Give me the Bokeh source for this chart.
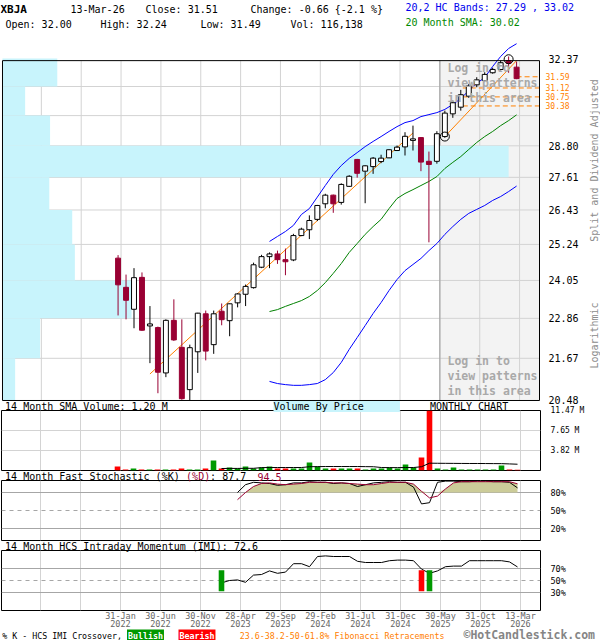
import math
import pandas as pd
from bokeh.plotting import figure
from bokeh.layouts import column
from bokeh.models import Range1d, FixedTicker, PrintfTickFormatter, Label, Span, Grid
from bokeh.embed import file_html
from bokeh.resources import INLINE

FONT = "DejaVu Sans Mono"
RED = "#990033"
ORANGE = "#ff8000"
CYAN = "#c8f4fc"
SHADE = "#f3f3f3"
GRIDC = "#d3d3d3"
LEVELC = "#a6a6a6"

# ---------------- data ----------------
months = [str(p) for p in pd.period_range("2022-01", "2026-03", freq="M")]
idx = list(range(len(months)))

opens = [24.78, 23.83, 23.14, 24.15, 22.63, 22.58, 21.25, 22.80, 21.99, 20.78,
         21.86, 23.00, 22.07, 23.08, 22.79, 23.34, 23.61, 23.82, 24.48, 24.83,
         24.92, 24.73, 24.72, 25.54, 25.74, 26.10, 26.65, 26.96, 26.70, 27.28,
         28.28, 27.84, 28.01, 28.20, 28.34, 28.62, 28.76, 29.01, 29.12, 28.21,
         28.21, 29.16, 30.06, 30.33, 30.78, 31.25, 31.43, 31.76, 31.90, 32.28, 32.00]
highs = [24.88, 24.24, 24.45, 24.31, 23.24, 22.61, 22.83, 23.45, 22.83, 22.07,
         23.03, 23.10, 23.10, 23.32, 23.32, 23.64, 23.92, 24.63, 24.89, 24.97,
         25.03, 25.10, 25.60, 25.81, 26.24, 26.61, 27.01, 26.98, 27.39, 27.69,
         28.30, 28.06, 28.37, 28.46, 28.67, 28.81, 29.33, 29.59, 29.14, 28.58,
         29.37, 30.19, 30.60, 31.04, 31.29, 31.57, 31.78, 31.97, 32.28, 32.46, 32.24]
lows = [22.95, 22.83, 22.56, 22.48, 21.53, 20.68, 21.13, 22.18, 20.50, 20.48,
        21.25, 21.61, 21.80, 22.65, 22.32, 23.20, 23.24, 23.79, 24.45, 24.45,
        24.59, 24.22, 24.68, 25.52, 25.42, 26.04, 26.49, 26.33, 26.62, 27.26,
        27.60, 26.67, 27.74, 28.14, 28.33, 28.60, 28.43, 28.62, 27.84, 25.31,
        28.12, 29.11, 29.90, 30.19, 30.71, 31.15, 31.40, 31.72, 31.86, 31.76, 31.49]
closes = [23.91, 23.42, 24.14, 22.50, 22.69, 21.27, 22.80, 22.21, 20.53, 21.98,
          23.02, 21.88, 23.00, 22.82, 23.31, 23.62, 23.86, 24.56, 24.83, 24.92,
          24.73, 24.66, 25.54, 25.76, 26.06, 26.59, 26.96, 26.65, 27.35, 27.65,
          27.76, 28.04, 28.33, 28.33, 28.65, 28.75, 29.17, 29.07, 28.18, 28.09,
          29.27, 30.09, 30.51, 30.84, 31.21, 31.46, 31.69, 31.90, 32.19, 32.17, 31.51]
volume_m = [0.78, 0.20, 0.38, 0.20, 0.19, 0.21, 0.20, 0.19, 0.40, 0.20,
            0.19, 0.38, 1.92, 0.38, 0.57, 0.38, 0.76, 0.38, 0.57, 0.76,
            0.38, 0.38, 0.38, 0.38, 1.53, 0.76, 0.38, 0.38, 0.38, 0.38,
            0.38, 0.19, 0.38, 0.38, 0.57, 0.38, 1.15, 0.57, 2.49, 11.47,
            0.38, 0.19, 0.57, 0.19, 0.19, 0.19, 0.19, 0.19, 0.96, 0.19, 0.12]

vol_sma_idx = list(range(13, 51))
vol_sma = [0.38, 0.40, 0.40, 0.42, 0.42, 0.55, 0.57, 0.57, 0.57, 0.57,
           0.57, 0.72, 0.74, 0.76, 0.76, 0.76, 0.76, 0.76, 0.74, 0.72,
           0.57, 0.55, 0.55, 0.57, 0.57, 0.72, 1.40, 1.38, 1.37, 1.36,
           1.35, 1.34, 1.34, 1.33, 1.32, 1.31, 1.26, 1.20]

band_idx = list(range(19, 51))
band_upper = [25.34, 25.51, 25.68, 25.89, 26.27, 26.48, 26.89, 27.31, 27.72, 28.05,
              28.32, 28.54, 28.77, 28.97, 29.16, 29.36, 29.55, 29.71, 29.79, 29.95,
              30.03, 30.11, 30.24, 30.44, 30.68, 31.01, 31.31, 31.56, 32.03, 32.46,
              32.81, 33.02]
sma20 = [23.07, 23.13, 23.23, 23.32, 23.41, 23.54, 23.73, 23.98, 24.28, 24.60,
         24.97, 25.27, 25.58, 25.85, 26.10, 26.48, 26.84, 27.02, 27.16, 27.31,
         27.46, 27.64, 27.94, 28.17, 28.39, 28.66, 28.93, 29.16, 29.36, 29.59,
         29.79, 30.02]
band_lower = [21.01, 20.95, 20.92, 20.90, 20.90, 20.92, 20.95, 21.06, 21.26, 21.55,
              21.93, 22.28, 22.64, 23.01, 23.35, 23.73, 24.08, 24.37, 24.57, 24.77,
              25.03, 25.27, 25.58, 25.85, 26.10, 26.31, 26.45, 26.59, 26.77, 26.91,
              27.09, 27.29]

fib_levels = [31.59, 31.12, 30.75, 30.38]
fib_from = [50.0, 43.25, 43.25, 43.25]
pivot_idx = [41, 49]
pivot_price = [29.16, 32.34]
trend1_idx = [4, 37]
trend1_price = [21.22, 29.30]
trend2_idx = [41, 50]
trend2_price = [29.16, 32.28]

vbp_edges = [20.48, 21.67, 22.86, 24.05, 25.24, 26.43, 27.61, 28.80, 29.99, 31.18, 32.37]
vbp_volume = [1.0, 2.97, 10.2, 5.72, 5.51, 3.70, 40.0, 3.76, 1.79, 4.33]
price_ticks = [20.48, 21.67, 22.86, 24.05, 25.24, 26.43, 27.61, 28.80, 32.37]

date_tick_pos = [-9.625, -4.625, 0.375, 5.375, 10.375, 15.375, 20.375,
                 25.375, 30.375, 35.375, 40.375, 45.375, 50.375]
date_tick_labels = ["", "", "31-Jan\n2022", "30-Jun\n2022", "30-Nov\n2022", "28-Apr\n2023",
                    "29-Sep\n2023", "29-Feb\n2024", "31-Jul\n2024", "31-Dec\n2024",
                    "30-May\n2025", "31-Oct\n2025", "13-Mar\n2026"]

stoch_idx = list(range(15, 51))
stoch_k = [80, 93, 97, 96, 95, 92, 93, 96, 96, 98, 97, 97, 95, 96, 95, 90, 93, 96,
           97, 98, 97, 97, 89, 61, 63, 97, 99, 99, 98, 98, 99, 99, 98, 98, 97, 87.7]
stoch_d = [68, 80, 90, 95, 96, 94, 93, 94, 95, 97, 97, 97, 96, 96, 95, 94, 93, 93,
           95, 97, 97, 97, 94, 82, 71, 74, 86, 96, 98, 98, 98, 98, 98, 98, 98, 94.5]
stoch_levels = [20, 50, 80]

imi_idx = list(range(13, 51))
imi = [46, 50, 51, 47, 59, 60, 66, 62, 64, 78, 78, 73, 90, 91, 90, 90, 90, 82, 80,
       80, 80, 83, 84, 84, 83, 69, 62, 66, 73, 74, 74, 83, 83, 83, 83, 83, 81, 72.6]
imi_levels = [30, 50, 70]
cross_idx = [13, 38, 39]
cross_kind = ["Bullish", "Bearish", "Bullish"]
cross_low = [32, 32, 32]
cross_high = [67, 67, 67]
vol_ticks = [3.82, 7.65, 11.47]

# ---------------- helpers ----------------
def lab(p, x, y, text, size="10px", color="black", bold=False, align="left", **kw):
    kw.setdefault("x_units", "screen")
    kw.setdefault("y_units", "screen")
    l = Label(x=x, y=y, text=text, text_font=FONT, text_font_size=size, text_color=color,
              text_font_style="bold" if bold else "normal", text_baseline="middle",
              text_align=align, **kw)
    p.add_layout(l)
    return l

def style_right_axis(ax, ticks, fmt, size, standoff):
    ax.ticker = FixedTicker(ticks=ticks)
    ax.formatter = PrintfTickFormatter(format=fmt)
    ax.major_label_text_font = FONT
    ax.major_label_text_font_size = size
    ax.major_label_text_color = "black"
    ax.axis_line_color = None
    ax.major_tick_line_color = None
    ax.minor_tick_line_color = None
    ax.major_tick_out = 0
    ax.major_tick_in = 0
    ax.minor_tick_out = 0
    ax.major_label_standoff = standoff

def panel(height, top, bottom, ymax, xaxis=None):
    p = figure(width=600, height=height, x_range=Range1d(-14.5, 52.875), y_range=Range1d(0, ymax),
               y_axis_location="right", x_axis_location=xaxis,
               min_border_left=1, min_border_right=60, min_border_top=top, min_border_bottom=bottom,
               toolbar_location=None, output_backend="svg")
    p.outline_line_color = "black"
    p.xgrid.visible = False
    p.ygrid.visible = False
    p.add_layout(Grid(dimension=0, ticker=FixedTicker(ticks=date_tick_pos), grid_line_color=GRIDC))
    return p

up = [i for i in idx if closes[i] >= opens[i]]
dn = [i for i in idx if closes[i] < opens[i]]

# ---------------- main price panel ----------------
BOX_L, BOX_R = -14.5, 52.875
BOX_BOTTOM, BOX_TOP = vbp_edges[0], 32.28

p1 = figure(width=600, height=405, x_range=Range1d(-14.625, 53.0), y_range=Range1d(20.425, 33.34),
            y_axis_type="log", y_axis_location="right", x_axis_location=None,
            min_border_left=0, min_border_right=59, min_border_top=36, min_border_bottom=3,
            toolbar_location=None, output_backend="svg")
p1.outline_line_color = None
p1.xgrid.visible = False
p1.ygrid.visible = False
p1.extra_x_ranges = {"vbp": Range1d(-0.0787, 42.52)}
style_right_axis(p1.yaxis[0], price_ticks, "%.2f", "10px", 8)

shade_start = date_tick_pos[10]
p1.quad(left=[shade_start], right=[BOX_R], bottom=[BOX_BOTTOM], top=[BOX_TOP],
        fill_color=SHADE, line_color=None)
glev = vbp_edges[1:-1]
p1.segment(x0=[BOX_L] * len(glev), x1=[BOX_R] * len(glev), y0=glev, y1=glev, line_color=GRIDC)
p1.segment(x0=date_tick_pos, x1=date_tick_pos, y0=[BOX_BOTTOM] * len(date_tick_pos),
           y1=[BOX_TOP] * len(date_tick_pos), line_color=GRIDC)
p1.segment(x0=[shade_start], x1=[shade_start], y0=[BOX_BOTTOM], y1=[BOX_TOP], line_color="#999999")

for sy, t in zip([335, 320, 305, 42, 27, 12],
                 ["Log in to", "view patterns", "in this area"] * 2):
    lab(p1, 446, sy, t, size="11.5px", color="#a9a9a9", bold=True, level="glyph")

p1.quad(left=[0] * len(vbp_volume), right=vbp_volume, bottom=vbp_edges[:-1], top=vbp_edges[1:],
        x_range_name="vbp", fill_color=CYAN, line_color=None)

p1.line(band_idx, band_upper, line_color="#0000ff", line_width=1)
p1.line(band_idx, band_lower, line_color="#0000ff", line_width=1)
p1.line(band_idx, sma20, line_color="#008000", line_width=1)
p1.line(trend1_idx, trend1_price, line_color=ORANGE, line_width=1)
p1.line(trend2_idx, trend2_price, line_color=ORANGE, line_width=1)
p1.segment(x0=fib_from, x1=[53.0] * len(fib_levels), y0=fib_levels, y1=fib_levels,
           line_color=ORANGE, line_dash="5 3", line_width=1)

p1.segment(x0=up, x1=up, y0=[lows[i] for i in up], y1=[highs[i] for i in up], line_color="black")
p1.segment(x0=dn, x1=dn, y0=[lows[i] for i in dn], y1=[highs[i] for i in dn], line_color=RED)
p1.vbar(x=up, width=0.62, bottom=[opens[i] for i in up], top=[closes[i] for i in up],
        fill_color="white", line_color="black")
p1.vbar(x=dn, width=0.62, bottom=[closes[i] for i in dn], top=[opens[i] for i in dn],
        fill_color=RED, line_color=RED)
p1.scatter(pivot_idx, pivot_price, marker="circle", size=9, fill_color=None,
           line_color="black", line_width=1)

p1.line([BOX_L, BOX_L, BOX_R, BOX_R, BOX_L], [BOX_BOTTOM, BOX_TOP, BOX_TOP, BOX_BOTTOM, BOX_BOTTOM],
        line_color="black", line_width=1)

# ---------------- volume panel ----------------
p2 = panel(66, 5, 1, 11.47)
p2.add_layout(Grid(dimension=1, ticker=FixedTicker(ticks=vol_ticks[:2]), grid_line_color=GRIDC))
style_right_axis(p2.yaxis[0], vol_ticks, "%.2f M", "8px", 10)
vol_colors = ["#009900" if closes[i] >= opens[i] else "#ff0000" for i in idx]
p2.vbar(x=idx, width=0.7, bottom=0, top=volume_m, fill_color=vol_colors, line_color=None)
p2.line(vol_sma_idx, vol_sma, line_color="black", line_width=1)

# ---------------- stochastic panel ----------------
p3 = panel(70, 9, 1, 100)
style_right_axis(p3.yaxis[0], stoch_levels, "%d%%", "8.5px", 10)
for lv in stoch_levels:
    p3.add_layout(Span(location=lv, dimension="width", line_color=LEVELC, line_width=1,
                       line_dash="4 4" if lv == 50 else "solid", level="underlay"))
p3.varea(x=stoch_idx, y1=[stoch_levels[2]] * len(stoch_idx),
         y2=[max(d, stoch_levels[2]) for d in stoch_d], fill_color="#cccc99")
p3.line(stoch_idx, stoch_k, line_color="black", line_width=1)
p3.line(stoch_idx, stoch_d, line_color=RED, line_width=1)

# ---------------- IMI panel ----------------
p4 = panel(99, 9, 30, 100, xaxis="below")
style_right_axis(p4.yaxis[0], imi_levels, "%d%%", "8.5px", 10)
for lv in imi_levels:
    p4.add_layout(Span(location=lv, dimension="width", line_color=LEVELC, line_width=1,
                       line_dash="4 4" if lv == 50 else "solid", level="underlay"))
p4.line(imi_idx, imi, line_color="black", line_width=1)
p4.vbar(x=cross_idx, width=0.7, bottom=cross_low, top=cross_high,
        fill_color=["#009900" if k == "Bullish" else "#ff0000" for k in cross_kind], line_color=None)
xa = p4.xaxis[0]
xa.ticker = FixedTicker(ticks=date_tick_pos)
xa.major_label_overrides = dict(zip(date_tick_pos, date_tick_labels))
xa.major_label_text_font = FONT
xa.major_label_text_font_size = "8.5px"
xa.major_label_text_color = "#666666"
xa.major_label_text_line_height = 0.8
xa.axis_line_color = None
xa.major_tick_line_color = None
xa.minor_tick_line_color = None
xa.major_tick_out = 0
xa.major_tick_in = 0
xa.minor_tick_out = 0
xa.major_label_standoff = 0

charts = column(p1, p2, p3, p4, spacing=0,
                styles={"position": "absolute", "left": "0px", "top": "0px"})

# ---------------- transparent text layer over the whole page ----------------
# same month / log-price scales as the main panel, stretched over the 600x640 page
ov = figure(width=600, height=640, x_range=Range1d(-14.625, 60.375), y_range=Range1d(14.853, 34.986),
            y_axis_type="log", x_axis_location=None, y_axis_location=None,
            min_border=0, toolbar_location=None, output_backend="svg",
            styles={"position": "absolute", "left": "0px", "top": "0px"})
ov.outline_line_color = None
ov.background_fill_color = None
ov.border_fill_color = None
ov.xgrid.visible = False
ov.ygrid.visible = False

H = 640
lab(ov, 0, H - 9, "XBJA", size="11px", bold=True)
lab(ov, 70, H - 9, "13-Mar-26")
lab(ov, 145, H - 9, "Close: 31.51")
lab(ov, 250, H - 9, "Change: -0.66 {-2.1 %}")
lab(ov, 5, H - 24, "Open: 32.00")
lab(ov, 100, H - 24, "High: 32.24")
lab(ov, 200, H - 24, "Low: 31.49")
lab(ov, 290, H - 24, "Vol: 116,138")
lab(ov, 405, H - 7, "20,2 HC Bands: 27.29 , 33.02", color="#0000ee")
lab(ov, 405, H - 22, "20 Month SMA: 30.02", color="#008800")

for lvl in fib_levels:
    lab(ov, 545, lvl, f"{lvl:.2f}", size="8px", color=ORANGE, y_units="data")

lab(ov, 594, H - 160, "Split and Dividend Adjusted", color="#8c8c8c", angle=math.pi / 2, align="center")
lab(ov, 594, H - 335, "Logarithmic", color="#8c8c8c", angle=math.pi / 2, align="center")

lab(ov, 4.6, H - 406, "14 Month SMA Volume: 1.20 M")
lab(ov, 273, H - 406, "Volume By Price      ", background_fill_color=CYAN)
lab(ov, 429.4, H - 406, "MONTHLY CHART")

lab(ov, 4.6, H - 476, "14 Month Fast Stochastic (%K) ")
lab(ov, 185.6, H - 476, "(%D)", color=RED)
lab(ov, 209.6, H - 476, ": 87.7")
lab(ov, 257, H - 476, "94.5", color=RED)

lab(ov, 4.6, H - 546, "14 Month HCS Intraday Momentum (IMI): 72.6")

lab(ov, 1.7, H - 635, "% K - HCS IMI Crossover,", size="8.3px")
lab(ov, 126.5, H - 635, "Bullish", size="8.3px", color="white", bold=True,
    background_fill_color="#009900", padding=1)
lab(ov, 178, H - 635, "Bearish", size="8.3px", color="white", bold=True,
    background_fill_color="#ff0000", padding=1)
lab(ov, 239.2, H - 635, "23.6-38.2-50-61.8% Fibonacci Retracements", size="8.3px", color=ORANGE)
lab(ov, 463, H - 634, "\u00a9HotCandlestick.com", size="11.5px", color="#858585", bold=True)

open("out.html", "w").write(file_html([charts, ov], INLINE, title="XBJA"))
